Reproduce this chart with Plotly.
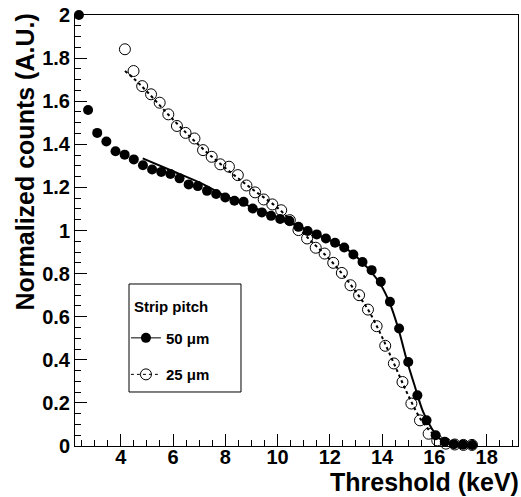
import plotly.graph_objects as go

# ---- data ----
x50 = [2.40, 2.75, 3.10, 3.45, 3.80, 4.15, 4.50, 4.85, 5.20, 5.55, 5.90,
       6.25, 6.60, 6.95, 7.30, 7.65, 8.00, 8.35, 8.70, 9.05, 9.40, 9.75,
       10.10, 10.45, 10.80, 11.15, 11.50, 11.85, 12.20, 12.55, 12.90, 13.25,
       13.60, 13.95, 14.30, 14.65, 15.00, 15.35, 15.70, 16.05, 16.40, 16.75,
       17.10, 17.45]
y50 = [2.000, 1.559, 1.453, 1.413, 1.368, 1.352, 1.330, 1.303, 1.283, 1.272,
       1.262, 1.242, 1.214, 1.206, 1.184, 1.169, 1.153, 1.138, 1.133, 1.102,
       1.084, 1.068, 1.053, 1.045, 1.017, 0.998, 0.982, 0.963, 0.943, 0.921,
       0.889, 0.854, 0.816, 0.762, 0.669, 0.545, 0.390, 0.235, 0.119, 0.050,
       0.020, 0.008, 0.006, 0.005]

x25 = [4.16, 4.49, 4.82, 5.16, 5.49, 5.82, 6.15, 6.48, 6.82, 7.15, 7.48,
       7.81, 8.14, 8.48, 8.81, 9.14, 9.47, 9.80, 10.14, 10.47, 10.80, 11.13,
       11.46, 11.80, 12.13, 12.46, 12.79, 13.12, 13.46, 13.79, 14.12, 14.45,
       14.78, 15.12, 15.45, 15.78, 16.11, 16.44, 16.78, 17.11, 17.44]
y25 = [1.841, 1.740, 1.670, 1.632, 1.593, 1.539, 1.485, 1.453, 1.427, 1.373,
       1.342, 1.307, 1.296, 1.257, 1.209, 1.177, 1.144, 1.121, 1.094, 1.048,
       1.002, 0.963, 0.920, 0.893, 0.850, 0.803, 0.746, 0.700, 0.633, 0.556,
       0.465, 0.383, 0.297, 0.197, 0.119, 0.057, 0.026, 0.011, 0.007, 0.005,
       0.005]

# fit curves
fit50_x = [4.84, 6.0, 7.2, 8.0, 9.0, 10.0, 11.0, 12.0, 12.64, 13.0, 13.41,
           13.92, 14.30, 14.62, 14.94, 15.26, 15.57, 15.90, 16.21, 16.53,
           17.0, 17.45]
fit50_y = [1.335, 1.275, 1.212, 1.160, 1.110, 1.062, 1.008, 0.955, 0.915,
           0.880, 0.831, 0.754, 0.661, 0.545, 0.400, 0.274, 0.158, 0.081,
           0.034, 0.011, 0.003, 0.001]
fit25_x = [4.16, 4.5, 5.0, 6.0, 7.0, 8.0, 9.0, 10.0, 11.0, 11.5, 12.0, 12.5,
           13.0, 13.5, 14.0, 14.5, 15.0, 15.5, 16.0, 16.5, 17.0]
fit25_y = [1.740, 1.705, 1.645, 1.515, 1.395, 1.290, 1.195, 1.105, 0.985,
           0.925, 0.865, 0.795, 0.715, 0.625, 0.505, 0.370, 0.235, 0.120,
           0.050, 0.015, 0.004]

x_tickvals = [4, 6, 8, 10, 12, 14, 16, 18]
x_ticklabels = ["4", "6", "8", "10", "12", "14", "16", "18"]
y_tickvals = [0, 0.2, 0.4, 0.6, 0.8, 1.0, 1.2, 1.4, 1.6, 1.8, 2.0]
y_ticklabels = ["0", "0.2", "0.4", "0.6", "0.8", "1", "1.2", "1.4", "1.6", "1.8", "2"]

legend_title = "Strip pitch"
name50 = "50 μm"
name25 = "25 μm"
x_title = "Threshold (keV)"
y_title = "Normalized counts (A.U.)"

FONT = "Liberation Sans"

fig = go.Figure()

fig.add_trace(go.Scatter(x=fit50_x, y=fit50_y, mode="lines",
                         line=dict(color="black", width=2, shape="spline"),
                         showlegend=False, hoverinfo="skip"))
fig.add_trace(go.Scatter(x=fit25_x, y=fit25_y, mode="lines",
                         line=dict(color="black", width=2, dash="dot", shape="spline"),
                         showlegend=False, hoverinfo="skip"))
fig.add_trace(go.Scatter(x=x50, y=y50, mode="markers", cliponaxis=False,
                         marker=dict(symbol="circle", size=10, color="black"),
                         showlegend=False))
fig.add_trace(go.Scatter(x=x25, y=y25, mode="markers", cliponaxis=False,
                         marker=dict(symbol="circle-open", size=11, color="black",
                                     line=dict(width=1, color="black")),
                         showlegend=False))
# legend entries
fig.add_trace(go.Scatter(x=[None], y=[None], mode="lines+markers",
                         name="<b>" + name50 + "</b>",
                         legendgroup="a",
                         line=dict(color="black", width=1),
                         marker=dict(symbol="circle", size=10, color="black")))
fig.add_trace(go.Scatter(x=[None], y=[None], mode="lines+markers",
                         name="<b>" + name25 + "</b>",
                         legendgroup="b",
                         line=dict(color="black", width=1, dash="dot"),
                         marker=dict(symbol="circle-open", size=11, color="black",
                                     line=dict(width=1, color="black"))))

axis_common = dict(
    showgrid=False, zeroline=False, showline=True, mirror=True,
    linecolor="black", linewidth=1, ticks="inside", tickcolor="black",
    tickwidth=1, ticklen=12,
    tickfont=dict(family=FONT, size=20, color="black", weight=700),
)

fig.update_xaxes(range=[2.25, 19.2], tickmode="array", tickvals=x_tickvals,
                 ticktext=x_ticklabels,
                 ticklabelstandoff=-7,
                 minor=dict(tickmode="linear", tick0=0, dtick=0.5, ticks="inside",
                            ticklen=6, tickcolor="black", tickwidth=1),
                 **axis_common)
fig.update_yaxes(range=[0, 2], tickmode="array", tickvals=y_tickvals,
                 ticktext=y_ticklabels,
                 minor=dict(tickmode="linear", tick0=0, dtick=0.05, ticks="inside",
                            ticklen=6, tickcolor="black", tickwidth=1),
                 **axis_common)

fig.add_annotation(text="<b>" + x_title + "</b>", xref="paper", yref="paper", x=1, y=0,
                   xanchor="right", yanchor="middle", xshift=3, yshift=-36,
                   showarrow=False,
                   font=dict(family=FONT, size=25, color="black"))
fig.add_annotation(text="<b>" + y_title + "</b>", xref="paper", yref="paper", x=0, y=1,
                   xanchor="center", yanchor="top", xshift=-51, yshift=3,
                   textangle=-90, showarrow=False,
                   font=dict(family=FONT, size=25, color="black"))

# legend box and heading
fig.add_shape(type="rect", xref="paper", yref="paper",
              x0=0.1219, x1=0.3747, y0=0.1253, y1=0.3759,
              line=dict(color="black", width=1), fillcolor="white", layer="above")
fig.add_annotation(text="<b>" + legend_title + "</b>", xref="paper", yref="paper",
                   x=0.1219, y=0.3759, xanchor="left", yanchor="middle",
                   xshift=3, yshift=-23, showarrow=False,
                   font=dict(family=FONT, size=15, color="black"))

fig.update_layout(
    width=521, height=497,
    margin=dict(l=75, r=3, t=15, b=51),
    paper_bgcolor="white", plot_bgcolor="white",
    showlegend=True,
    legend=dict(
        x=0.115, y=0.2886, xanchor="left", yanchor="top",
        bgcolor="rgba(0,0,0,0)", borderwidth=0,
        font=dict(family=FONT, size=15, color="black"),
        tracegroupgap=14, itemwidth=30,
    ),
)

fig.write_html("out.html")
